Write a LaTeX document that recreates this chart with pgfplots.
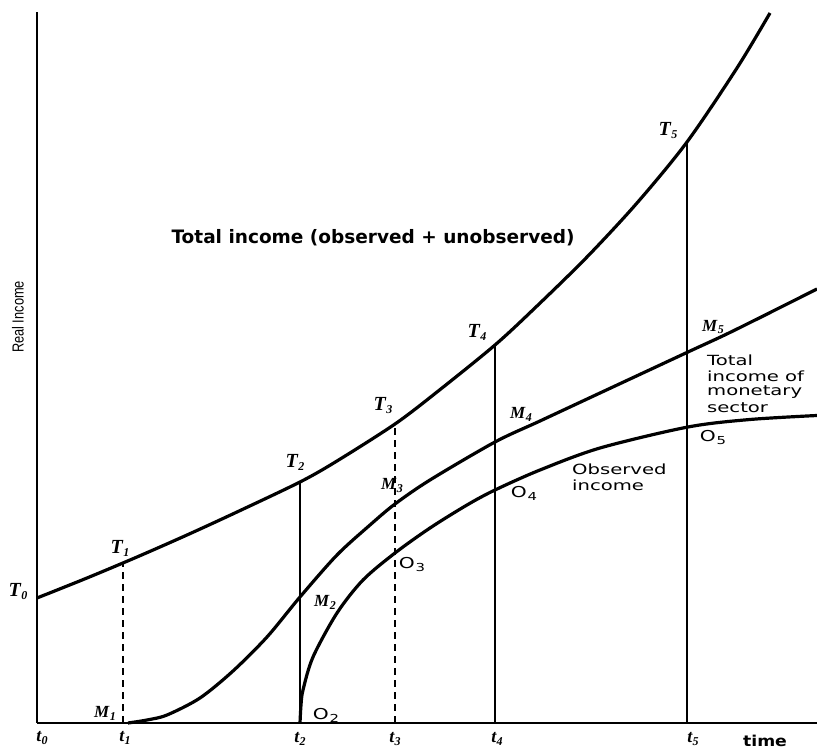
\documentclass[border=0pt]{standalone}
\usepackage{fontspec}
\setmainfont{DejaVu Sans}
\newfontfamily\lab{Liberation Serif}
\newfontfamily\rl{Liberation Sans}
\usepackage{pgfplots}
\pgfplotsset{compat=1.18}
\newcommand{\Tl}[1]{{\lab\fontsize{20}{20}\selectfont\bfseries\itshape T\kern0.5pt\raisebox{-3pt}{\fontsize{12}{12}\selectfont #1}}}
\newcommand{\Ml}[1]{{\lab\fontsize{17}{17}\selectfont\bfseries\itshape M\kern0.5pt\raisebox{-3pt}{\fontsize{12}{12}\selectfont #1}}}
\newcommand{\tl}[1]{{\lab\fontsize{18}{18}\selectfont\bfseries\itshape t\kern0.3pt\raisebox{-3pt}{\fontsize{12}{12}\selectfont #1}}}
\newcommand{\Ol}[1]{\scalebox{1.35}[1]{\fontsize{15}{15}\selectfont O\kern0.5pt\raisebox{-3pt}{\fontsize{11}{11}\selectfont #1}}}
\newcommand{\wide}[1]{\scalebox{1.4}[1]{\fontsize{14}{14}\selectfont #1}}
\begin{document}
\begin{tikzpicture}
\useasboundingbox (0pt,0pt) rectangle (817pt,752pt);
\begin{axis}[at={(37pt,29pt)}, anchor=south west, scale only axis,
  width=780pt, height=711pt, xmin=0, xmax=780, ymin=0, ymax=711,
  axis lines=left, axis line style={line width=2.4pt,-},
  xtick=\empty, ytick=\empty, clip=false]
% total income
\addplot[line width=3.2pt, smooth, tension=0.5] coordinates {
(0,125) (50,145) (100,166) (150,188) (200,211) (263,241) (300,262) (358,299)
(400,331) (458,378) (500,417) (550,466) (600,520) (650,581) (700,655) (733,710)};
% monetary sector
\addplot[line width=3.2pt, smooth, tension=0.5] coordinates {
(91,0) (110,3) (130,8) (163,25) (196,52) (230,86) (263,126) (300,168) (333,198)
(358,219) (393,243) (458,281) (503,302) (563,330) (651,371) (696,392) (780,434)};
% observed income
\addplot[line width=3.2pt, smooth, tension=0.5] coordinates {
(263,0) (264,18) (266,33) (276,66) (300,110) (326,143) (358,170) (393,195)
(430,218) (458,233) (503,253) (563,275) (651,296) (713,303.5) (780,307.5)};
% verticals
\addplot[line width=2.2pt, dash pattern=on 7pt off 5pt] coordinates {(86,0) (86,161)};
\addplot[line width=2.2pt, dash pattern=on 7pt off 5pt] coordinates {(358,0) (358,299)};
\addplot[line width=2.4pt] coordinates {(263,0) (263,241)};
\addplot[line width=2pt] coordinates {(458,0) (458,378)};
\addplot[line width=2pt] coordinates {(650,0) (650,581)};
% labels
\node at (axis cs:-19,131) {\Tl{0}};
\node at (axis cs:83,175) {\Tl{1}};
\node at (axis cs:258,261) {\Tl{2}};
\node at (axis cs:346,317) {\Tl{3}};
\node at (axis cs:440,391) {\Tl{4}};
\node at (axis cs:631,592) {\Tl{5}};
\node at (axis cs:68,10) {\Ml{1}};
\node at (axis cs:288,121) {\Ml{2}};
\node at (axis cs:355,238) {\Ml{3}};
\node at (axis cs:484,309) {\Ml{4}};
\node at (axis cs:676,396) {\Ml{5}};
\node at (axis cs:289,8) {\Ol{2}};
\node at (axis cs:375,158) {\Ol{3}};
\node at (axis cs:487,230) {\Ol{4}};
\node at (axis cs:676,285) {\Ol{5}};
\node at (axis cs:5,-15) {\tl{0}};
\node at (axis cs:88,-15) {\tl{1}};
\node at (axis cs:263,-16) {\tl{2}};
\node at (axis cs:358,-16) {\tl{3}};
\node at (axis cs:460,-16) {\tl{4}};
\node at (axis cs:656,-16) {\tl{5}};
\node at (axis cs:728,-18) {\scalebox{1.15}[1]{\fontsize{15}{15}\selectfont\bfseries time}};
\node[anchor=west] at (axis cs:131,485) {\fontsize{18.5}{18.5}\selectfont\bfseries Total income (observed + unobserved)};
\node[anchor=west, inner sep=0pt] at (axis cs:670,363) {\wide{Total}};
\node[anchor=west, inner sep=0pt] at (axis cs:670,347) {\wide{income of}};
\node[anchor=west, inner sep=0pt] at (axis cs:670,331) {\wide{monetary}};
\node[anchor=west, inner sep=0pt] at (axis cs:670,315) {\wide{sector}};
\node[anchor=west, inner sep=0pt] at (axis cs:535,254) {\wide{Observed}};
\node[anchor=west, inner sep=0pt] at (axis cs:535,238) {\wide{income}};
\node[rotate=90] at (axis cs:-19,406) {\scalebox{0.8}[1]{\rl\fontsize{16}{16}\selectfont Real Income}};
\end{axis}
\end{tikzpicture}
\end{document}
